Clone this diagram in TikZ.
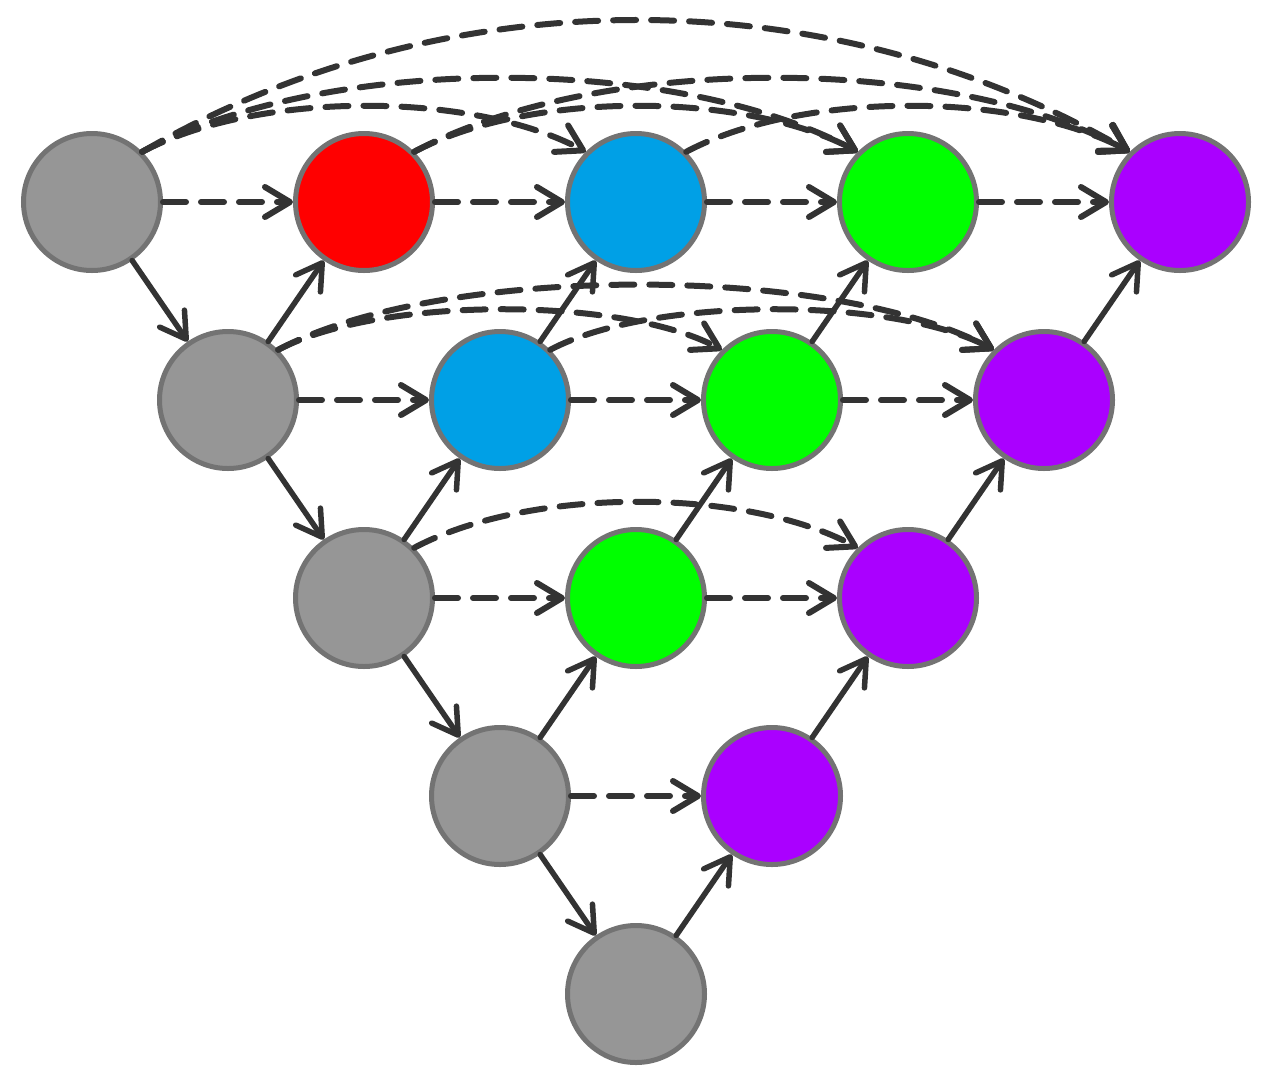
\documentclass[tikz,border=0pt]{standalone}
\usetikzlibrary{arrows.meta}
\definecolor{cgray}{RGB}{150,150,150}
\definecolor{cborder}{RGB}{115,115,115}
\definecolor{cred}{RGB}{255,0,0}
\definecolor{cblue}{RGB}{0,160,230}
\definecolor{cgreen}{RGB}{0,255,0}
\definecolor{cpurple}{RGB}{170,0,255}
\definecolor{cline}{RGB}{51,51,51}
\begin{document}
\begin{tikzpicture}[x=1pt,y=1pt,
  nd/.style={circle, draw=cborder, line width=5pt, minimum size=137pt, inner sep=0pt},
  arr/.style={-{Straight Barb[length=25pt,width=30pt,line cap=round,line join=round]}, draw=cline, line cap=round},
  sol/.style={arr, line width=5.5pt},
  dsh/.style={arr, line width=6pt, dash pattern=on 23pt off 15pt},
  arcA/.style={dsh, out=28, in=152, looseness=0.75},
  arcR/.style={dsh, out=28, in=152, looseness=0.66},
  arcB/.style={dsh, out=30, in=150, looseness=0.91}
]
\useasboundingbox (0,0) rectangle (1264,-1077);
\foreach \r/\c/\col in {0/0/cgray,0/1/cred,0/2/cblue,0/3/cgreen,0/4/cpurple,
  1/0/cgray,1/1/cblue,1/2/cgreen,1/3/cpurple,
  2/0/cgray,2/1/cgreen,2/2/cpurple,
  3/0/cgray,3/1/cpurple,
  4/0/cgray}
  \node[nd, fill=\col] (n\r\c) at ({92+136*\r+272*\c}, {-(202+198*\r)}) {};
% horizontal dashed
\foreach \a/\b in {n00/n01,n01/n02,n02/n03,n03/n04,n10/n11,n11/n12,n12/n13,n20/n21,n21/n22,n30/n31}
  \draw[dsh] (\a) -- (\b);
% solid diagonals
\foreach \a/\b in {n00/n10,n10/n20,n20/n30,n30/n40,
  n10/n01,n11/n02,n12/n03,n13/n04,n20/n11,n21/n12,n22/n13,n30/n21,n31/n22,n40/n31}
  \draw[sol] (\a) -- (\b);
% arcs, rows 1 and 3
\foreach \a/\b in {n00/n02,n01/n03,n02/n04,n20/n22,n00/n03,n01/n04}
  \draw[arcA] (\a.45) to (\b.135);
% arcs, row 2
\foreach \a/\b in {n10/n12,n11/n13,n10/n13}
  \draw[arcR] (\a.45) to (\b.135);
% arc span 4
\draw[arcB] (n00.45) to (n04.135);
\end{tikzpicture}
\end{document}
